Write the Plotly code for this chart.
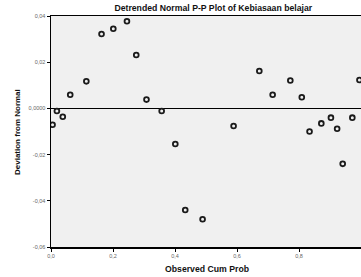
import plotly.graph_objects as go

observed_cum_prob = [0.005, 0.019, 0.038, 0.062, 0.114, 0.163, 0.201, 0.245, 0.275, 0.308,
                     0.357, 0.401, 0.433, 0.489, 0.589, 0.672, 0.715, 0.772, 0.809, 0.834,
                     0.872, 0.903, 0.923, 0.941, 0.972, 0.995]
deviation = [-0.0071, -0.0011, -0.0036, 0.0059, 0.0117, 0.0322, 0.0345, 0.0377, 0.0231, 0.0038,
             -0.0011, -0.0154, -0.0440, -0.0480, -0.0076, 0.0162, 0.0059, 0.0121, 0.0048, -0.0100,
             -0.0065, -0.0040, -0.0088, -0.0240, -0.0040, 0.0123]

x_tickvals = [0.0, 0.2, 0.4, 0.6, 0.8, 1.0]
x_ticktext = ["0,0", "0,2", "0,4", "0,6", "0,8", "1,0"]
y_tickvals = [0.04, 0.02, 0.0, -0.02, -0.04, -0.06]
y_ticktext = ["0,04", "0,02", "0,0000", "-0,02", "-0,04", "-0,06"]

W, H = 361, 277
L, R, T, B = 51, 0, 16, 30

fig = go.Figure()
fig.add_trace(go.Scatter(
    x=observed_cum_prob, y=deviation, mode="markers",
    marker=dict(symbol="circle-open", size=4.8, color="#1a1a1a", line=dict(width=1.8, color="#1a1a1a")),
    hoverinfo="skip", showlegend=False,
))

fig.update_layout(
    width=W, height=H,
    margin=dict(l=L, r=R, t=T, b=B, autoexpand=False),
    paper_bgcolor="white", plot_bgcolor="#f0f0f0",
    font=dict(family="Liberation Sans, Arial, sans-serif", color="#000"),
    title=dict(text="<b>Detrended Normal P-P Plot of Kebiasaan belajar</b>",
               x=(81 + 297) / 2 / W, xanchor="center", xref="paper",
               y=1 - 7.5 / H, yanchor="middle",
               font=dict(size=8.7, color="#111")),
    annotations=[
        dict(text="<b>Observed Cum Prob</b>", xref="paper", yref="paper",
             x=(206.5 - L) / (W - L - R), y=-(269 - (H - B)) / (H - T - B),
             xanchor="center", yanchor="middle", showarrow=False,
             font=dict(size=8.7, color="#111")),
        dict(text="<b>Deviation from Normal</b>", xref="paper", yref="paper",
             x=-(L - 17) / (W - L - R), y=(H - B - 132) / (H - T - B),
             xanchor="center", yanchor="middle", showarrow=False, textangle=-90,
             font=dict(size=8, color="#111")),
    ],
)
fig.update_xaxes(
    range=[0, 1.0], tickvals=x_tickvals, ticktext=x_ticktext, automargin=False,
    showgrid=False, zeroline=False, showline=True, linecolor="black", linewidth=1.5,
    mirror=True, ticks="outside", ticklen=3, tickcolor="black", tickwidth=1,
    tickfont=dict(size=5.5, color="#666"),
)
fig.update_yaxes(
    range=[-0.06, 0.04], tickvals=y_tickvals, ticktext=y_ticktext, automargin=False,
    showgrid=False, zeroline=True, zerolinecolor="black", zerolinewidth=1.5,
    showline=True, linecolor="black", linewidth=1.5,
    ticks="outside", ticklen=3, tickcolor="black", tickwidth=1,
    tickfont=dict(size=5.5, color="#666"),
)

fig.write_html(
    "out.html",
    config={"displayModeBar": False, "staticPlot": True},
    post_script="document.body.style.margin='0';document.body.style.overflow='hidden';",
)
